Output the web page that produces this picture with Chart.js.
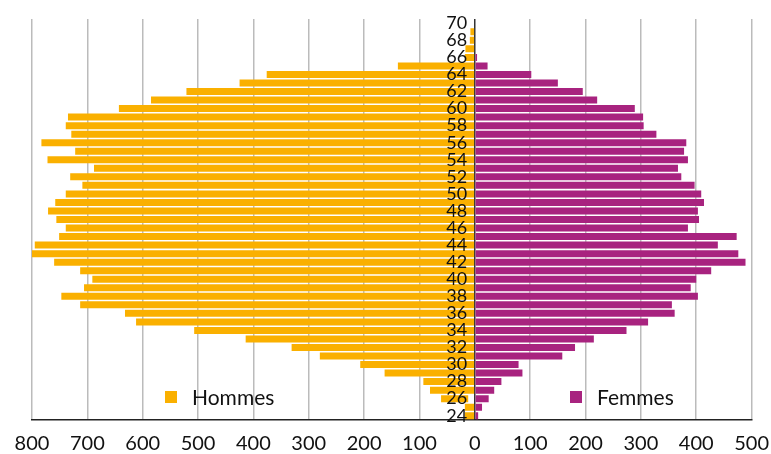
<!DOCTYPE html>
<html>
<head>
<meta charset="utf-8">
<script src="https://cdn.jsdelivr.net/npm/chart.js@4/dist/chart.umd.min.js"></script>
<style>
	body { margin: 0; background: #fff; }
	#container { position: relative; width: 771px; height: 454px; overflow: hidden; }
	.legende { position: absolute; top: 384px; font: 21px Lato, sans-serif; color: #111; display: flex; align-items: center; }
	.legende span { display: inline-block; width: 12px; height: 12px; margin-right: 15px; }
</style>
</head>
<body>
<div id="container">
	<canvas id="pyramide" width="781" height="468"></canvas>
	<div class="legende" style="left:165px"><span style="background:#FAB000"></span>Hommes</div>
	<div class="legende" style="left:570px"><span style="background:#A8237F"></span>Femmes</div>
</div>
<script>
/// ages, du haut vers le bas
const ages = [70, 69, 68, 67, 66, 65, 64, 63, 62, 61, 60, 59, 58, 57, 56, 55, 54, 53, 52, 51, 50,
	49, 48, 47, 46, 45, 44, 43, 42, 41, 40, 39, 38, 37, 36, 35, 34, 33, 32, 31, 30,
	29, 28, 27, 26, 25, 24]

const hommes = [0, 8, 9, 17, 18, 139, 376, 425, 521, 585, 643, 735, 739, 729, 783, 722, 772, 688, 731, 709, 739,
	758, 771, 756, 739, 751, 795, 800, 760, 713, 691, 706, 747, 713, 632, 612, 507, 414, 331, 280, 207,
	163, 93, 81, 61, 18, 18]

const femmes = [0, 0, 0, 0, 4, 23, 102, 150, 195, 221, 289, 304, 305, 328, 382, 378, 385, 367, 373, 397, 409,
	414, 403, 405, 385, 473, 439, 476, 489, 427, 400, 390, 403, 356, 361, 313, 274, 215, 181, 158, 79,
	86, 48, 35, 25, 13, 6]

// barre des hommes qui ne part pas de zéro (age: début)
const hommesDebut = { 26: 12 }

const xTicks = { min: -800, max: 500, step: 100 }

const orange = '#FAB000'
const violet = '#A8237F'
const police = 'Lato'

const dataHommes = hommes.map((v, i) => hommesDebut[ages[i]] ? [-hommesDebut[ages[i]], -v] : -v)

new Chart(document.getElementById('pyramide'), {
	type: 'bar',
	data: {
		labels: ages,
		datasets: [
			{ label: 'Hommes', data: dataHommes, backgroundColor: orange, grouped: false, barPercentage: 0.82, categoryPercentage: 1 },
			{ label: 'Femmes', data: femmes, backgroundColor: violet, grouped: false, barPercentage: 0.82, categoryPercentage: 1 }
		]
	},
	options: {
		indexAxis: 'y',
		responsive: false,
		animation: false,
		layout: { padding: { left: 32, top: 19, right: 0, bottom: 0 } },
		plugins: { legend: { display: false }, tooltip: { enabled: false } },
		scales: {
			x: {
				min: xTicks.min,
				max: xTicks.max,
				ticks: {
					stepSize: xTicks.step,
					callback: v => Math.abs(v),
					color: '#111',
					font: { family: police, size: 20 },
					padding: 12,
					maxRotation: 0
				},
				grid: {
					color: ctx => ctx.tick && ctx.tick.value === 0 ? '#333' : '#bbb',
					lineWidth: 1.5,
					drawTicks: false
				},
				border: { display: true, color: '#222', width: 1.5 }
			},
			y: {
				position: { x: -14 },
				grid: { display: false, drawTicks: false },
				border: { display: false },
				ticks: {
					z: 1,
					autoSkip: false,
					callback: (v, i) => ages[i] % 2 === 0 ? ages[i] : '',
					color: '#111',
					font: { family: police, size: 18 }
				}
			}
		}
	}
})
</script>
</body>
</html>
